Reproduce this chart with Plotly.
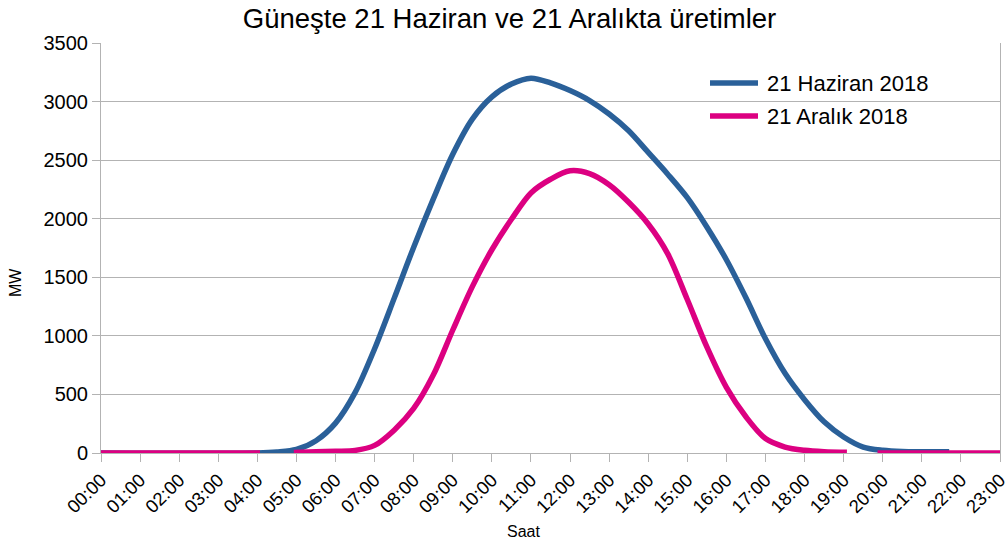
import plotly.graph_objects as go

# ---- data ----
saat_etiketleri = ["%02d:00" % h for h in range(24)]

haziran_saat = ["00:00", "04:00", "04:30", "05:00", "05:30", "06:00", "06:30", "07:00",
                "07:30", "08:00", "08:30", "09:00", "09:30", "10:00", "10:30", "11:00",
                "11:30", "12:00", "12:30", "13:00", "13:30", "14:00", "14:30", "15:00",
                "15:30", "16:00", "16:30", "17:00", "17:30", "18:00", "18:30", "19:00",
                "19:30", "20:00", "20:30", "21:00", "21:42"]
haziran_mw = [0, 0, 8, 30, 105, 255, 515, 890,
              1320, 1757, 2167, 2550, 2850, 3040, 3150, 3200,
              3160, 3094, 3009, 2894, 2751, 2566, 2380, 2180,
              1930, 1650, 1325, 975, 680, 455, 266, 137,
              51, 23, 12, 10, 10]

aralik_saat = ["00:00", "04:04", "04:30", "04:56", "05:30", "06:00", "06:30", "07:00",
               "07:30", "08:00", "08:30", "09:00", "09:30", "10:00", "10:30", "11:00",
               "11:30", "12:00", "12:30", "13:00", "13:30", "14:00", "14:30", "15:00",
               "15:30", "16:00", "16:30", "17:00", "17:30", "18:00", "18:30", "19:05",
               "19:30", "19:52", "23:00"]
aralik_mw = [0, 0, None, 4, 10, 15, 22, 65,
             195, 380, 665, 1050, 1420, 1735, 1995, 2220,
             2337, 2409, 2385, 2290, 2140, 1955, 1700, 1310,
             905, 560, 309, 123, 51, 23, 11, 6,
             None, 0, 0]

seri_adlari = ["21 Haziran 2018", "21 Aralık 2018"]


def saat_to_h(s):
    h, m = s.split(":")
    return int(h) + int(m) / 60.0


BLUE = "#2a6099"
PINK = "#dc0081"
FONT = "Liberation Sans"
W, H = 1006, 544
L, R, T, B = 101, 6, 43, 91
PW, PH = W - L - R, H - T - B


def px(x):
    return (x - L) / PW


def py(y):
    return (H - B - y) / PH


fig = go.Figure()
for saat, mw, renk, ad in [(haziran_saat, haziran_mw, BLUE, seri_adlari[0]),
                           (aralik_saat, aralik_mw, PINK, seri_adlari[1])]:
    fig.add_trace(go.Scatter(
        x=[saat_to_h(s) for s in saat], y=mw,
        mode="lines", name=ad, showlegend=False, hoverinfo="skip",
        line=dict(color=renk, width=5.5, shape="spline", smoothing=0.9),
        connectgaps=False,
    ))

shapes = []
annotations = []
# manual legend
for i, (ad, renk) in enumerate(zip(seri_adlari, [BLUE, PINK])):
    yy = 83 + i * 33
    shapes.append(dict(type="line", xref="paper", yref="paper",
                       x0=px(710), x1=px(758), y0=py(yy), y1=py(yy),
                       line=dict(color=renk, width=5.5)))
    annotations.append(dict(text=ad, xref="paper", yref="paper",
                            x=px(765), y=py(yy), xanchor="left", yanchor="middle",
                            showarrow=False, font=dict(family=FONT, size=22)))

annotations += [
    dict(text="Saat", xref="paper", yref="paper", x=px(523), y=py(531),
         xanchor="center", yanchor="middle", showarrow=False,
         font=dict(family=FONT, size=16)),
    dict(text="MW", xref="paper", yref="paper", x=px(15), y=py(283),
         xanchor="center", yanchor="middle", textangle=-90, showarrow=False,
         font=dict(family=FONT, size=16)),
]

fig.update_layout(
    width=W, height=H,
    margin=dict(l=L, r=R, t=T, b=B, autoexpand=False),
    paper_bgcolor="white", plot_bgcolor="white",
    font=dict(family=FONT, color="#000000", size=19),
    title=dict(text="Güneşte 21 Haziran ve 21 Aralıkta üretimler",
               x=509.5 / W, xanchor="center", xref="container",
               y=1 - 18 / H, yref="container", yanchor="middle",
               font=dict(family=FONT, size=27.5, color="#000000")),
    showlegend=False,
    hovermode=False,
    xaxis=dict(range=[0, 23.0001], tickmode="array",
               tickvals=list(range(24)), ticktext=saat_etiketleri,
               tickangle=-45, showgrid=False, zeroline=False, automargin=False,
               ticklabeloverflow="allow",
               showline=True, linecolor="#b3b3b3", linewidth=1,
               ticks="outside", ticklen=8, tickcolor="#b3b3b3",
               tickfont=dict(family=FONT, size=18.5)),
    yaxis=dict(range=[0, 3500], dtick=500, showgrid=True, automargin=False,
               gridcolor="#b3b3b3", gridwidth=1, zeroline=False,
               showline=True, mirror=True, linecolor="#b3b3b3", linewidth=1,
               ticks="outside", ticklen=8, tickcolor="#b3b3b3",
               tickfont=dict(family=FONT, size=20)),
    shapes=shapes,
    annotations=annotations,
)

fig.write_html("out.html", config={"displayModeBar": False},
               post_script="document.body.style.margin='0';document.body.style.overflow='hidden';")
